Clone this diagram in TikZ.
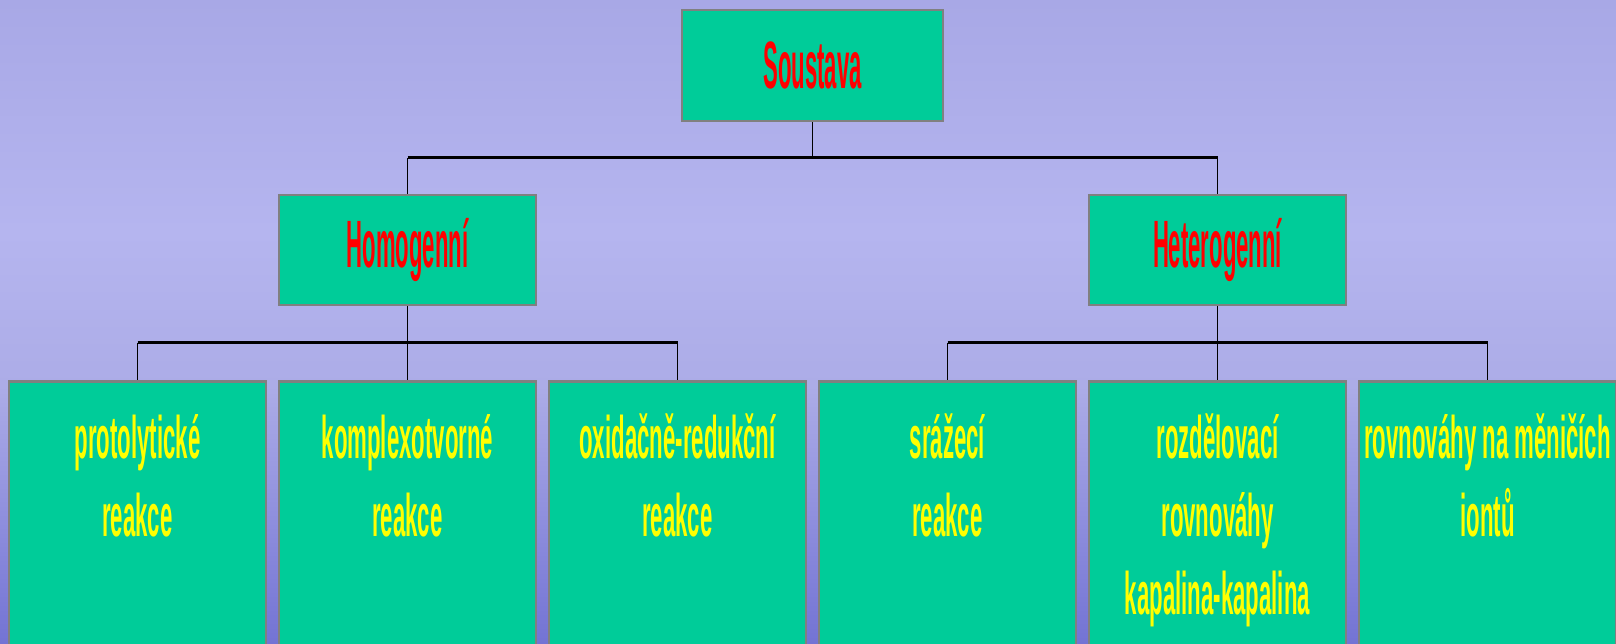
\documentclass[tikz,border=0pt]{standalone}
\usepackage{fontspec}
\newfontfamily\narbig[FakeStretch=0.33]{Liberation Sans}
\newfontfamily\narleaf[FakeStretch=0.37]{Liberation Sans}
\definecolor{boxfill}{HTML}{00CC99}
\definecolor{boxline}{HTML}{808080}
\definecolor{bgtop}{HTML}{A8A8E6}
\definecolor{bgmid}{HTML}{B5B5EF}
\definecolor{bglow}{HTML}{ACACE7}
\definecolor{bgbot}{HTML}{7373D4}
\definecolor{leafyellow}{HTML}{FFFF00}
\definecolor{titlered}{HTML}{FF0000}
% TikZ maps the path onto the middle 25bp--75bp of the shading
\pgfdeclareverticalshading{bgshade}{100bp}{color(0bp)=(bgbot); color(25bp)=(bgbot); color(45bp)=(bglow); color(57bp)=(bgmid); color(75bp)=(bgtop); color(100bp)=(bgtop)}
\tikzset{
  box/.style={draw=boxline, line width=2.5pt, fill=boxfill, inner sep=0pt},
  topbox/.style={box, minimum width=261pt, minimum height=111pt, text=titlered,
    font=\narbig\bfseries\fontsize{67}{80}\selectfont},
  midbox/.style={box, minimum width=257pt, minimum height=110pt, text=titlered,
    font=\narbig\bfseries\fontsize{67}{80}\selectfont},
  leafbox/.style={box, minimum width=257pt, minimum height=290pt, anchor=north},
  leaftext/.style={text=leafyellow, align=center, anchor=base, inner sep=0pt,
    font=\narleaf\bfseries\fontsize{60}{78}\selectfont},
  bus/.style={line width=3pt, draw=black},
  stem/.style={line width=1.2pt, draw=black},
}
\begin{document}
\begin{tikzpicture}[x=1pt,y=-1pt]
\useasboundingbox (0,0) rectangle (1616,644);
\clip (0,0) rectangle (1616,644);
\shade[shading=bgshade] (0,0) rectangle (1616,644);

% junction coordinates
\coordinate (j1) at (812.5,158);
\coordinate (j2) at (407.5,342.5);
\coordinate (j3) at (1217.5,342.5);

\node[topbox] (top) at (812.5,65.5) {Soustava};
\node[midbox] (homo) at (407.5,250) {Homogenní};
\node[midbox] (hetero) at (1217.5,250) {Heterogenní};

\node[leafbox] (l1) at (137.5,380) {};
\node[leafbox] (l2) at (407.5,380) {};
\node[leafbox] (l3) at (677.5,380) {};
\node[leafbox] (l4) at (947.5,380) {};
\node[leafbox] (l5) at (1217.5,380) {};
\node[leafbox] (l6) at (1487.5,380) {};

\draw[stem] (top.south) -- (j1);
\draw[bus] (homo.north |- j1) -- (hetero.north |- j1);
\draw[stem] (homo.north |- j1) -- (homo.north);
\draw[stem] (hetero.north |- j1) -- (hetero.north);

\draw[bus] (l1.north |- j2) -- (l3.north |- j2);
\draw[stem] (homo.south) -- (l2.north);
\draw[stem] (l1.north |- j2) -- (l1.north);
\draw[stem] (l3.north |- j2) -- (l3.north);

\draw[bus] (l4.north |- j3) -- (l6.north |- j3);
\draw[stem] (hetero.south) -- (l5.north);
\draw[stem] (l4.north |- j3) -- (l4.north);
\draw[stem] (l6.north |- j3) -- (l6.north);

% anchor=base is the baseline of the last line
\node[leaftext] (t1) at (137.5,536) {protolytické\\reakce};
\node[leaftext] (t2) at (407.5,536) {komplexotvorné\\reakce};
\node[leaftext] (t3) at (677.5,536) {oxidačně-redukční\\reakce};
\node[leaftext] (t4) at (947.5,536) {srážecí\\reakce};
\node[leaftext] (t5) at (1217.5,614) {rozdělovací\\rovnováhy\\kapalina-kapalina};
\node[leaftext] (t6) at (1487.5,536) {rovnováhy na měničích\\iontů};
\end{tikzpicture}
\end{document}
